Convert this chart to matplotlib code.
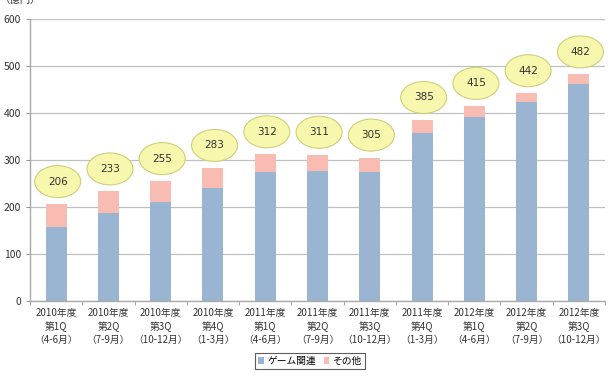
import numpy as np
import matplotlib.pyplot as plt
from matplotlib.patches import Ellipse

plt.rcParams['font.family'] = ['Noto Sans CJK JP', 'DejaVu Sans']

# ── data (億円)
years    = ['2010年度', '2010年度', '2010年度', '2010年度', '2011年度', '2011年度',
            '2011年度', '2011年度', '2012年度', '2012年度', '2012年度']
quarters = ['第1Q', '第2Q', '第3Q', '第4Q', '第1Q', '第2Q', '第3Q', '第4Q', '第1Q', '第2Q', '第3Q']
months   = ['（4-6月）', '（7-9月）', '（10-12月）', '（1-3月）', '（4-6月）', '（7-9月）',
            '（10-12月）', '（1-3月）', '（4-6月）', '（7-9月）', '（10-12月）']
totals   = [206, 233, 255, 283, 312, 311, 305, 385, 415, 442, 482]
game     = [158, 188, 210, 240, 274, 277, 274, 357, 392, 423, 462]
other    = [t - g for t, g in zip(totals, game)]

labels = [f'{y}\n{q}\n{m}' for y, q, m in zip(years, quarters, months)]
x = np.arange(len(totals))

c_game  = '#9ab5d1'
c_other = '#f8bcb3'

fig = plt.figure(figsize=(6.11, 3.78), dpi=100)
ax = fig.add_axes([30/611, 77/378, 575/611, 282/378])

ax.bar(x, game, width=0.4, color=c_game, label='ゲーム関連', zorder=2)
ax.bar(x, other, width=0.4, bottom=game, color=c_other, label='その他', zorder=2)

# yellow speech bubbles with totals
for xi, t in zip(x, totals):
    ax.add_patch(Ellipse((xi + 0.03, t + 48), 0.88, 68, facecolor='#f7f7ad',
                         edgecolor='#cfcf7a', linewidth=0.8, zorder=3, clip_on=False))
    ax.text(xi + 0.03, t + 48, str(t), ha='center', va='center', fontsize=7.5,
            color='#333333', zorder=4, family='DejaVu Sans')

ax.set_xlim(-0.5, len(totals) - 0.5)
ax.set_ylim(0, 600)
ax.set_yticks(range(0, 601, 100))
ax.tick_params(axis='y', labelsize=7.5, colors='#333333', length=3, color='#999999')
ax.set_xticks(x)
ax.set_xticklabels(labels, fontsize=7, color='#333333', linespacing=1.4)
ax.set_xticks(np.arange(-0.5, len(totals), 1), minor=True)
ax.tick_params(axis='x', which='major', length=0, pad=5)
ax.tick_params(axis='x', which='minor', length=3, color='#999999')

ax.grid(axis='y', color='#c0c0c0', linewidth=0.9, zorder=0)
ax.set_axisbelow(True)
for s in ['top', 'right']:
    ax.spines[s].set_visible(False)
for s in ['left', 'bottom']:
    ax.spines[s].set_color('#aaaaaa')
    ax.spines[s].set_linewidth(1.0)

fig.text(0.0, 1.0, '（億円）', fontsize=7.5, color='#333333', ha='left', va='center')

leg = fig.legend(loc='center', bbox_to_anchor=(310/611, 17/378), ncol=2, fontsize=7,
                 frameon=True, fancybox=False, edgecolor='#333333', handlelength=0.6,
                 handleheight=0.6, handletextpad=0.3, columnspacing=0.8, borderpad=0.3)
leg.get_frame().set_linewidth(0.8)

fig.savefig('out.png', dpi=100)
